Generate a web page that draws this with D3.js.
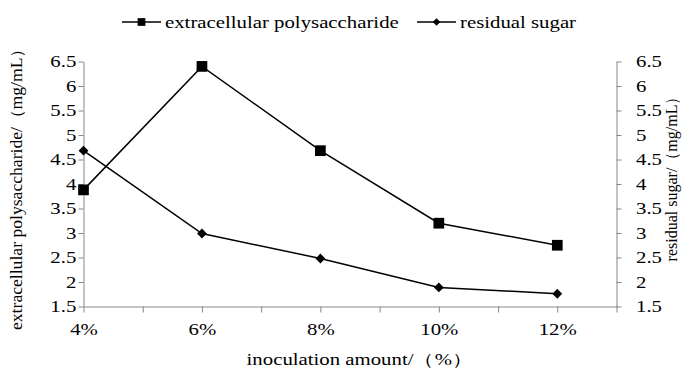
<!DOCTYPE html>
<html>
<head>
<meta charset="utf-8">
<script src="https://cdn.jsdelivr.net/npm/d3@7"></script>
<style>
  body { margin: 0; background: #fff; }
</style>
</head>
<body>
<div id="chart-area"></div>
<script>
const W = 683, H = 368;

// data
const inoculation = [4, 6, 8, 10, 12];
const categories = ["4%", "6%", "8%", "10%", "12%"];
const polysaccharide = [3.88, 6.40, 4.68, 3.20, 2.75];
const residualSugar = [4.68, 2.99, 2.48, 1.89, 1.76];
const yTicks = [1.5, 2, 2.5, 3, 3.5, 4, 4.5, 5, 5.5, 6, 6.5];
const xTicks = [4, 5, 6, 7, 8, 9, 10, 11, 12, 13];

const FONT = "Liberation Serif";
const margin = { left: 83.5, right: 66.5, top: 61.5, bottom: 61.5 };
const plotW = W - margin.left - margin.right;
const plotH = H - margin.top - margin.bottom;
const SX = 1.3; // the picture's text is stretched sideways

const svg = d3.select("#chart-area").append("svg").attr("width", W).attr("height", H);
const group = svg.append("g").attr("transform", `translate(${margin.left},${margin.top})`);

var x = d3.scaleLinear().domain([4, 13]).range([0, plotW]);
var y = d3.scaleLinear().domain([1.5, 6.5]).range([plotH, 0]);

const axisColor = "#868686";
function styleAxis(g) {
    g.attr("font-family", FONT).attr("font-size", 16);
    g.selectAll("path, line").attr("stroke", axisColor);
    g.selectAll("text").attr("font-family", FONT).attr("font-size", 16).attr("fill", "#000");
}

const yAxisLeft = group.append("g").call(d3.axisLeft(y).tickValues(yTicks).tickSize(5).tickSizeOuter(0).tickFormat(d3.format("")));
styleAxis(yAxisLeft);
yAxisLeft.selectAll("text").attr("x", -5.5).attr("transform", `scale(${SX},1)`);

const yAxisRight = group.append("g").attr("transform", `translate(${plotW},0)`)
    .call(d3.axisRight(y).tickValues(yTicks).tickSize(5).tickSizeOuter(0).tickFormat(d3.format("")));
styleAxis(yAxisRight);
yAxisRight.selectAll("text").attr("x", 15).attr("transform", `scale(${SX},1)`);

const labelOf = (d) => { const i = inoculation.indexOf(d); return i >= 0 ? categories[i] : ""; };
const xAxis = group.append("g").attr("transform", `translate(0,${plotH})`)
    .call(d3.axisBottom(x).tickValues(xTicks).tickSize(6).tickSizeOuter(0).tickFormat(labelOf));
styleAxis(xAxis);
xAxis.selectAll("text").attr("y", 17).attr("transform", `scale(${SX},1)`);

// lines
const line = d3.line().x((d) => x(d[0])).y((d) => y(d[1]));
const series = [
    { name: "extracellular polysaccharide", values: polysaccharide, rot: 0, size: 115, legendSize: 60 },
    { name: "residual sugar", values: residualSugar, rot: 45, size: 48, legendSize: 28 }
];

series.forEach((s) => {
    const pts = inoculation.map((v, i) => [v, s.values[i]]);
    group.append("path").datum(pts)
        .attr("fill", "none").attr("stroke", "#000").attr("stroke-width", 1.5)
        .attr("d", line);
    group.selectAll(null).data(pts).enter().append("path")
        .attr("transform", (d) => `translate(${x(d[0])},${y(d[1])}) rotate(${s.rot})`)
        .attr("d", d3.symbol().type(d3.symbolSquare).size(s.size))
        .attr("fill", "#000");
});

// legend
const legendX = [122, 417];
series.forEach((s, i) => {
    const row = svg.append("g").attr("transform", `translate(${legendX[i]},22)`);
    row.append("line").attr("x1", 0).attr("x2", 39).attr("stroke", "#000").attr("stroke-width", 1.5);
    row.append("path").attr("transform", `translate(19.5,0) rotate(${s.rot})`)
        .attr("d", d3.symbol().type(d3.symbolSquare).size(s.legendSize)).attr("fill", "#000");
    row.append("text").attr("x", 43 / SX).attr("y", 5.5)
        .attr("font-family", FONT).attr("font-size", 16)
        .attr("transform", `scale(${SX},1)`).text(s.name);
});

// axis titles
svg.append("text").attr("x", 360 / SX).attr("y", 365)
    .attr("font-family", FONT).attr("font-size", 16)
    .attr("text-anchor", "middle").attr("transform", `scale(${SX},1)`)
    .text("inoculation amount/（%）");

svg.append("text").attr("transform", "translate(22,185) rotate(-90)")
    .attr("font-family", FONT).attr("font-size", 16).attr("text-anchor", "middle")
    .attr("textLength", 290).attr("lengthAdjust", "spacingAndGlyphs")
    .text("extracellular polysaccharide/（mg/mL）");

svg.append("text").attr("transform", "translate(677,175) rotate(-90)")
    .attr("font-family", FONT).attr("font-size", 16).attr("text-anchor", "middle")
    .text("residual sugar/（mg/mL）");
</script>
</body>
</html>
